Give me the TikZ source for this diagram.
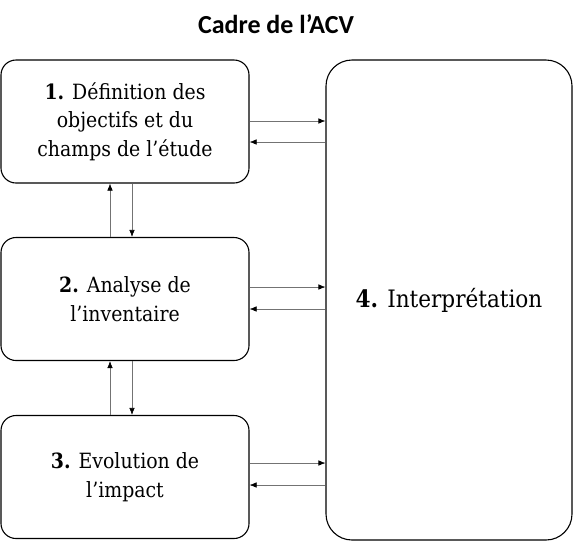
\documentclass[tikz,border=0pt]{standalone}
\usepackage{fontspec}
\newfontfamily\titlefont{Carlito}
\setmainfont{DejaVu Serif Condensed}
\usetikzlibrary{arrows.meta}

\begin{document}
\begin{tikzpicture}[x=1pt, y=-1pt, font=\fontsize{21}{28.5}\selectfont,
  phase/.style={draw, line width=1.1pt, align=center, rounded corners=15pt, minimum width=248pt, minimum height=123pt, inner sep=0pt},
  result/.style={phase, rounded corners=26pt, minimum width=246pt, minimum height=480pt, font=\fontsize{24}{28.5}\selectfont},
  transfer/.style={-{Latex[length=7pt, width=5.5pt, color=black]}, line width=0.6pt, draw=black!55},
]
\useasboundingbox (0,0) rectangle (575,542);

\node[font=\titlefont\bfseries\fontsize{26}{30}\selectfont, anchor=base] (title) at (276,33) {Cadre de l’ACV};

\node[phase] (definition) at (125,121.5) {\textbf{1.} Définition des\\objectifs et du\\champs de l’étude};
\node[phase] (inventory) at (125,299) {\textbf{2.} Analyse de\\l’inventaire};
\node[phase] (impact) at (125,477) {\textbf{3.} Evolution de\\l’impact};
\node[result] (interpretation) at (449,300) {\textbf{4.} Interprétation};

\draw[transfer] ([xshift=7pt]definition.south) -- ([xshift=7pt]inventory.north);
\draw[transfer] ([xshift=-15pt]inventory.north) -- ([xshift=-15pt]definition.south);
\draw[transfer] ([xshift=7pt]inventory.south) -- ([xshift=7pt]impact.north);
\draw[transfer] ([xshift=-15pt]impact.north) -- ([xshift=-15pt]inventory.south);

\draw[transfer] ([yshift=0.5pt]definition.east) -- ([yshift=0.5pt]definition.east -| interpretation.west);
\draw[transfer] ([yshift=-20.5pt]definition.east -| interpretation.west) -- ([yshift=-20.5pt]definition.east);
\draw[transfer] ([yshift=12pt]inventory.east) -- ([yshift=12pt]inventory.east -| interpretation.west);
\draw[transfer] ([yshift=-10pt]inventory.east -| interpretation.west) -- ([yshift=-10pt]inventory.east);
\draw[transfer] ([yshift=14pt]impact.east) -- ([yshift=14pt]impact.east -| interpretation.west);
\draw[transfer] ([yshift=-8pt]impact.east -| interpretation.west) -- ([yshift=-8pt]impact.east);
\end{tikzpicture}
\end{document}
